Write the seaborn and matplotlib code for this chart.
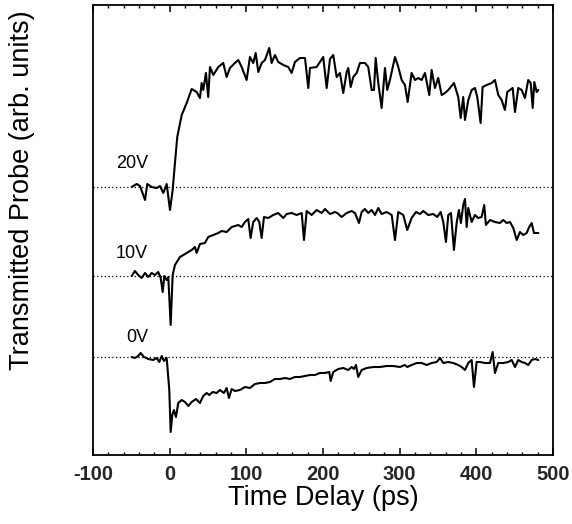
import matplotlib
matplotlib.use("Agg")
import matplotlib.pyplot as plt
import seaborn as sns
import pandas as pd
import numpy as np
from matplotlib.ticker import MultipleLocator

# ---- data (time in ps, signal in arb. units relative to each baseline) ----
t20 = [-49.6, -43.0, -38.7, -32.1, -29.2, -23.5, -17.0, -12.7, -8.3, -3.9, 0.4, 3.9, 6.9, 9.9,
       15.7, 22.2, 28.7, 35.2, 39.5, 41.7, 43.8, 47.3, 50.3, 52.6, 56.9, 63.4, 69.9, 74.3, 78.6,
       85.1, 89.5, 93.9, 100.4, 104.7, 109.0, 112.2, 115.6, 120.0, 124.3, 129.9, 133.0, 137.3,
       141.6, 148.2, 154.7, 159.1, 163.4, 169.9, 176.5, 180.8, 183.0, 191.7, 200.3, 204.8, 209.1,
       213.4, 217.8, 222.1, 226.4, 230.9, 233.0, 236.1, 239.5, 243.9, 248.2, 254.7, 259.0, 263.5,
       266.5, 268.7, 272.1, 276.5, 280.8, 283.8, 287.3, 293.9, 298.2, 302.6, 306.9, 310.4, 315.6,
       320.0, 324.3, 328.7, 333.0, 338.6, 341.7, 346.0, 350.3, 354.8, 359.1, 363.4, 370.8, 376.4,
       379.6, 382.9, 385.2, 389.5, 393.9, 398.2, 401.2, 405.6, 408.2, 413.5, 420.0, 424.3, 428.6,
       433.0, 437.3, 440.3, 443.9, 447.4, 450.4, 454.7, 459.1, 463.4, 467.7, 470.9, 473.5, 475.6,
       478.7, 480.8]
v20 = [0, 3, 1, -13, 3, 0, -1, 1, -6, 3, -23, -3, 24, 50,
       72, 84, 98, 95, 89, 104, 97, 114, 90, 120, 112, 120, 124, 110, 119,
       124, 127, 120, 107, 130, 124, 134, 115, 124, 127, 139, 124, 132,
       125, 122, 120, 114, 125, 129, 129, 99, 119, 120, 130, 99, 128,
       132, 110, 114, 94, 115, 119, 100, 110, 114, 124, 124, 120, 97,
       97, 129, 104, 79, 119, 97, 107, 130, 120, 107, 102, 85, 114,
       107, 109, 107, 114, 92, 117, 99, 109, 92, 94, 97, 104, 90,
       69, 90, 67, 87, 97, 99, 90, 64, 100, 102, 104, 107, 92,
       87, 77, 95, 97, 99, 75, 99, 97, 89, 107, 104, 79, 105,
       95, 97]

t10 = [-49.6, -45.3, -41.0, -36.5, -32.2, -27.9, -23.5, -19.2, -14.9, -11.7, -9.1, -7.0, -3.9,
       -1.8, 1.3, 3.9, 6.9, 13.4, 22.2, 28.7, 33.0, 35.2, 39.5, 46.0, 50.3, 56.9, 63.4, 67.8,
       74.3, 80.9, 89.5, 93.9, 98.2, 102.5, 105.6, 109.0, 113.5, 116.9, 120.0, 123.0, 128.6,
       135.1, 141.6, 148.2, 152.6, 159.1, 165.6, 172.2, 175.2, 178.7, 185.2, 191.7, 198.3, 202.6,
       209.1, 215.6, 218.6, 224.3, 230.9, 237.4, 241.7, 246.9, 250.4, 254.7, 259.0, 263.5, 267.8,
       272.1, 276.5, 283.0, 289.6, 293.9, 298.2, 304.7, 309.9, 315.6, 321.3, 326.5, 330.8, 337.3,
       343.8, 349.0, 353.5, 356.9, 360.4, 363.4, 366.9, 370.8, 374.3, 377.3, 379.9, 382.9, 385.2,
       387.4, 389.5, 393.9, 398.2, 402.5, 406.9, 410.3, 412.5, 417.8, 424.3, 430.8, 435.1, 439.6,
       443.9, 448.2, 452.6, 456.9, 461.2, 465.6, 469.0, 472.2, 475.2, 480.8]
v10 = [0, 5, 1, -2, 3, -1, 3, 1, 4, -2, -16, 0, -4,
       -1, -49, 1, 11, 19, 23, 26, 29, 23, 32, 33, 39, 41, 43, 45,
       44, 49, 51, 49, 54, 57, 38, 54, 58, 54, 38, 59, 58,
       61, 63, 58, 62, 63, 61, 63, 36, 65, 61, 66, 63, 67,
       62, 64, 63, 59, 63, 65, 63, 53, 64, 67, 63, 66, 61,
       68, 62, 64, 61, 36, 64, 61, 46, 58, 64, 62, 65, 61,
       62, 59, 64, 54, 34, 61, 63, 26, 53, 66, 53, 71, 77,
       49, 68, 54, 61, 58, 59, 71, 51, 56, 54, 53, 56, 53,
       54, 48, 36, 44, 41, 43, 49, 53, 43, 43]

t0 = [-49.6, -45.3, -41.0, -37.8, -33.5, -27.9, -21.4, -17.0, -13.6, -10.4, -7.4, -3.9, -0.5,
      1.3, 3.4, 5.6, 8.2, 11.2, 15.7, 20.0, 24.3, 28.7, 34.3, 39.5, 43.8, 48.3, 51.7, 56.1,
      61.3, 65.6, 70.8, 74.3, 77.3, 80.9, 85.2, 91.7, 98.2, 104.7, 111.3, 117.8, 124.3, 130.8,
      137.3, 143.9, 150.4, 156.9, 163.4, 169.9, 176.5, 183.0, 189.5, 196.0, 202.6, 208.2, 210.0,
      213.4, 219.9, 226.4, 232.9, 237.4, 240.4, 243.0, 246.0, 250.4, 256.9, 265.6, 274.3, 283.0,
      291.6, 300.4, 306.9, 309.9, 315.6, 322.2, 328.7, 335.2, 341.7, 348.3, 352.6, 356.9, 363.4,
      369.9, 376.4, 380.8, 385.2, 389.5, 393.9, 396.9, 400.4, 404.7, 411.3, 417.8, 421.3, 424.3,
      428.6, 435.1, 441.7, 446.1, 450.4, 454.7, 459.1, 463.4, 467.7, 472.2, 476.5, 480.8]
v0 = [0, -1, 1, 4, 0, -2, -3, -1, -5, 1, -4, -1, -33,
      -75, -58, -53, -60, -46, -43, -45, -49, -45, -42, -46, -39, -36, -38, -35,
      -36, -33, -36, -31, -41, -32, -34, -33, -30, -31, -27, -26, -26, -25,
      -22, -22, -21, -22, -20, -20, -19, -18, -18, -16, -16, -15, -24,
      -15, -12, -11, -13, -10, -12, -8, -20, -13, -11, -10, -10, -9,
      -9, -10, -8, -10, -8, -6, -6, -8, -6, -5, -1, -6, -5,
      -6, -8, -10, -13, -6, -3, -30, -5, -5, -6, -6, 5, -16,
      -6, -6, -5, -3, -10, -3, -5, -6, -8, -3, -2, -3]

labels = ["20V", "10V", "0V"]
baselines = [268, 179, 98]
label_dy = [24, 22, 20]
xticks = [-100, 0, 100, 200, 300, 400, 500]

# ---- build long table ----
frames = []
for lab, tt, vv, base in zip(labels, [t20, t10, t0], [v20, v10, v0], baselines):
    frames.append(pd.DataFrame({"t": tt, "y": np.array(vv) + base, "trace": lab}))
df = pd.concat(frames, ignore_index=True)

sns.set_theme(style="ticks")
plt.rcParams["font.family"] = ["Liberation Sans", "DejaVu Sans"]

fig = plt.figure(figsize=(5.72, 5.24), dpi=100)
ax = fig.add_axes([93 / 572, 1 - 455 / 524, 460 / 572, 450 / 524])

sns.lineplot(data=df, x="t", y="y", hue="trace", units="trace", estimator=None,
             sort=False, palette=["black"] * 3, linewidth=1.5, legend=False, ax=ax)

for lab, base, dy in zip(labels, baselines, label_dy):
    ax.axhline(base, color="black", linestyle=(0, (1, 2)), linewidth=0.9, zorder=1)
    ax.text(-28, base + dy, lab, ha="right", va="center", fontsize=13, color="black")

ax.set_xlim(-100, 500)
ax.set_ylim(0, 450)
ax.set_xticks(xticks)
ax.set_xticklabels([str(v) for v in xticks], fontsize=14.5, fontweight="bold")
ax.xaxis.set_minor_locator(MultipleLocator(20))
ax.tick_params(axis="x", which="major", direction="in", length=5, width=1.1,
               top=True, bottom=True, pad=7, color="black")
ax.tick_params(axis="x", which="minor", direction="in", length=2.5, width=1.0,
               top=True, bottom=True, color="black")
ax.set_yticks([])
ax.tick_params(axis="y", which="both", left=False, right=False)
for s in ax.spines.values():
    s.set_linewidth(1.3)
    s.set_color("black")
    s.set_visible(True)

ax.set_xlabel("Time Delay (ps)", fontsize=19.5, labelpad=1, color="black")
ax.set_ylabel("Transmitted Probe (arb. units)", fontsize=19.5, color="black")
ax.yaxis.set_label_coords(-0.125, 0.589)

fig.savefig("out.png", dpi=100)
